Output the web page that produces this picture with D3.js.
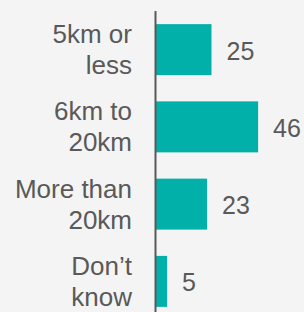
<!DOCTYPE html>
<html>
<head>
<meta charset="utf-8">
<script src="https://cdn.jsdelivr.net/npm/d3@7"></script>
<style>
  html, body { margin: 0; padding: 0; background: #f4f4f4; }
  svg { display: block; font-family: "Liberation Sans", Arial, sans-serif; }
</style>
</head>
<body>
<div id="graf"></div>
<script>
// Datos
const categories = [["5km or", "less"], ["6km to", "20km"], ["More than", "20km"], ["Don\u2019t", "know"]]
const values = [25, 46, 23, 5]

const draw = () => {
  const anchoTotal = 304
  const altoTotal = 312

  const svg = d3.select("#graf")
    .append("svg")
    .attr("width", anchoTotal)
    .attr("height", altoTotal)

  const data = values.map((v, i) => ({ key: i, lines: categories[i], value: v }))

  // Escaladores
  const x = d3.scaleLinear().domain([0, 50]).range([156, 267])
  const y = d3.scaleBand()
    .domain(data.map((d) => d.key))
    .range([11, 320])
    .paddingInner(0.34)
    .paddingOuter(0.17)

  // Barras
  svg.selectAll("rect.bar")
    .data(data)
    .join("rect")
    .attr("class", "bar")
    .attr("x", x(0))
    .attr("y", (d) => y(d.key))
    .attr("width", (d) => x(d.value) - x(0))
    .attr("height", y.bandwidth())
    .attr("fill", "#00b0a9")

  // Eje
  svg.append("line")
    .attr("x1", x(0) - 0.5).attr("x2", x(0) - 0.5)
    .attr("y1", y.range()[0]).attr("y2", y.range()[1])
    .attr("stroke", "#595959")
    .attr("stroke-width", 2)

  const fs = 26
  const lh = 31

  // Etiquetas de categoria
  const labels = svg.selectAll("text.cat")
    .data(data)
    .join("text")
    .attr("class", "cat")
    .attr("text-anchor", "end")
    .attr("fill", "#595959")
    .style("font-size", fs + "px")

  labels.selectAll("tspan")
    .data((d) => d.lines.map((t, j) => ({ t, j, d })))
    .join("tspan")
    .attr("x", 132)
    .attr("y", (l) => y(l.d.key) + y.bandwidth() / 2 - 6.5 + l.j * lh)
    .text((l) => l.t)

  // Valores
  svg.selectAll("text.val")
    .data(data)
    .join("text")
    .attr("class", "val")
    .attr("x", (d) => x(d.value) + 15)
    .attr("y", (d) => y(d.key) + y.bandwidth() / 2 + 10)
    .attr("fill", "#595959")
    .style("font-size", "25px")
    .text((d) => d.value)
}

draw()
</script>
</body>
</html>
